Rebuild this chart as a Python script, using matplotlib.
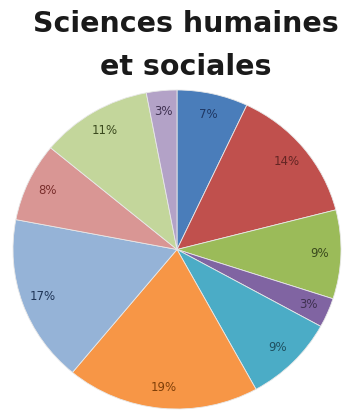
import matplotlib.pyplot as plt

# share of each discipline, clockwise from 12 o'clock
shares = [7, 14, 9, 3, 9, 19, 17, 8, 11, 3]
colors = ['#4A7DBA', '#C0504D', '#9BBB59', '#8064A2', '#4BACC6',
          '#F79646', '#95B3D7', '#D99694', '#C3D69B', '#B3A2C7']
label_colors = ['#1F3864', '#632523', '#3B4A1E', '#3F3151', '#1F5060',
                '#7F3F08', '#1F3557', '#7A2E2C', '#3B4A1E', '#3F3151']

fig = plt.figure(figsize=(3.5, 4.12), dpi=100)

fig.text(186 / 350, 1 - 32 / 412, 'Sciences humaines', ha='center', va='baseline',
         fontsize=20.5, fontweight='bold', color='#1a1a1a')
fig.text(186 / 350, 1 - 75 / 412, 'et sociales', ha='center', va='baseline',
         fontsize=20.5, fontweight='bold', color='#1a1a1a')

ax = fig.add_axes([13 / 350, 3 / 412, 328 / 350, 319 / 412])
wedges, texts, autotexts = ax.pie(
    shares, colors=colors, startangle=90, counterclock=False,
    autopct='%d%%', pctdistance=0.87,
    wedgeprops=dict(edgecolor='#e8e8e8', linewidth=0.6),
    textprops=dict(fontsize=8.5))
for t, c in zip(autotexts, label_colors):
    t.set_color(c)
ax.set_aspect('auto')
ax.set_xlim(-1, 1)
ax.set_ylim(-1, 1)

fig.savefig('out.png', dpi=100)
